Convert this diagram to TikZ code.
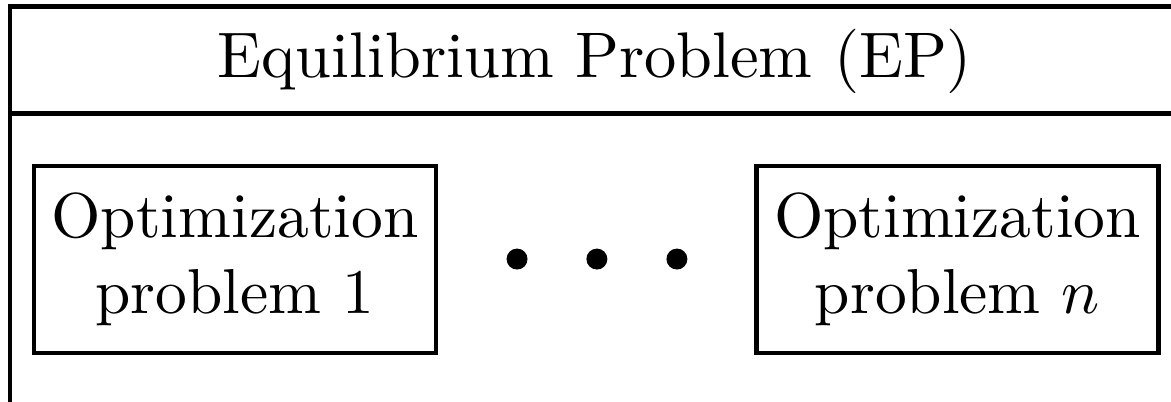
\documentclass[tikz,border=0pt]{standalone}
\usepackage{tikz}
\usetikzlibrary{positioning}

\tikzset{
  optbox/.style={draw,line width=0.7pt,align=center,minimum width=2.225cm,minimum height=1.035cm,inner sep=2pt},
  bigdot/.style={circle,fill,inner sep=0pt,minimum size=0.116cm},
  frameline/.style={line width=0.75pt}
}

\begin{document}
\begin{tikzpicture}
  \useasboundingbox (0,0) rectangle (6.482,2.225);
  \clip (0,0) rectangle (6.482,2.225);

  % outer EP frame (cut off at right and bottom)
  \draw[frameline] (7,2.189) -| (0.055,-0.5);
  \draw[frameline] (0.055,1.597) -- (7,1.597);
  \node[font=\fontsize{10.15}{12}\selectfont] (title) at (3.293,1.884) {Equilibrium Problem (EP)};

  % the n optimization problems
  \node[optbox] (opt1) at (1.301,0.789) {Optimization\\problem 1};
  \node[optbox] (optn) at (5.300,0.789) {Optimization\\problem $n$};
  \foreach \i/\x in {1/2.862,2/3.304,3/3.747} {
    \node[bigdot] (dot\i) at (\x,0.791) {};
  }
\end{tikzpicture}
\end{document}
